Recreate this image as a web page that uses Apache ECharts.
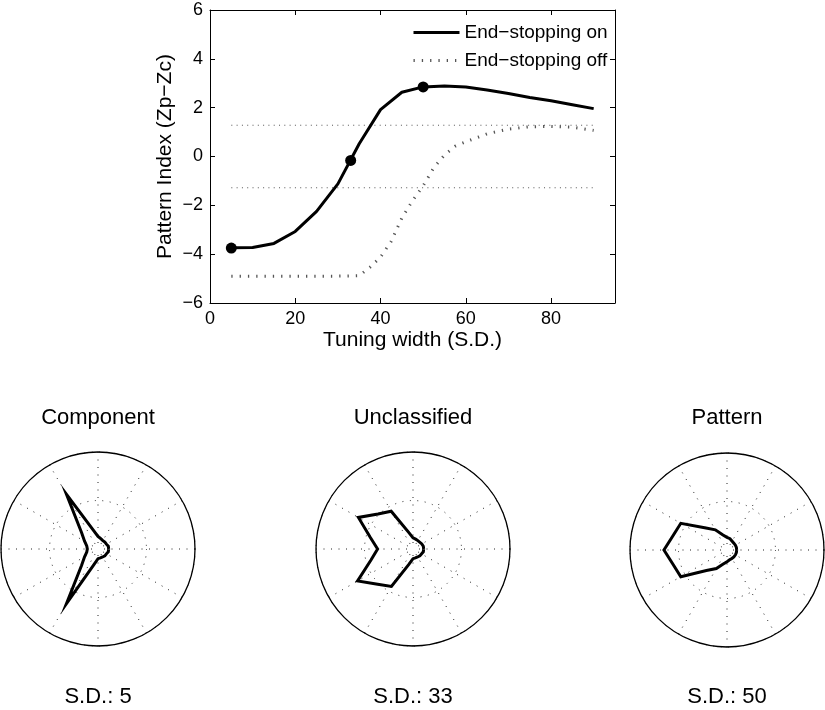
<!DOCTYPE html>
<html><head><meta charset="utf-8">
<script src="https://cdn.jsdelivr.net/npm/echarts@6/dist/echarts.min.js"></script>
<style>html,body{margin:0;padding:0;background:#fff}#c{width:825px;height:710px}</style>
</head><body><div id="c"></div>
<script>
// ---- Top chart data ----
const onSD = [5,10,15,20,25,30,35,40,45,50,55,60,65,70,75,80,85,90];
const onValues = [-3.74,-3.73,-3.56,-3.07,-2.25,-1.12,0.52,1.92,2.63,2.85,2.89,2.85,2.72,2.58,2.42,2.28,2.12,1.96];
const offSD = [5,10,15,20,25,30,35,37.5,40,42.5,45,47.5,50,52.5,55,57.5,60,65,70,75,80,85,90];
const offValues = [-4.9,-4.9,-4.9,-4.9,-4.9,-4.9,-4.88,-4.54,-4.12,-3.48,-2.52,-1.81,-1.2,-0.46,0.06,0.42,0.6,0.93,1.12,1.22,1.23,1.2,1.07];
const markerSD = [5,33,50];
const markerValues = [-3.75,-0.16,2.85];
const thresholdSD = [5,90];
const thresholdUpper = [1.28,1.28];
const thresholdLower = [-1.28,-1.28];
const legendNames = ['End\u2212stopping on','End\u2212stopping off'];

// ---- Polar plots data ----
const directions = [0,15,30,45,60,75,90,105,120,135,150,165,180,195,210,225,240,255,270,285,300,315,330,345,360];
const componentR   = [0.11,0.11,0.10,0.10,0.10,0.11,0.13,0.21,0.65,0.24,0.16,0.12,0.11,0.12,0.16,0.24,0.65,0.17,0.10,0.095,0.095,0.10,0.10,0.11,0.11];
const unclassifiedR= [0.11,0.11,0.105,0.10,0.10,0.105,0.115,0.18,0.45,0.51,0.65,0.455,0.365,0.45,0.66,0.515,0.445,0.165,0.10,0.095,0.095,0.10,0.105,0.11,0.11];
const patternR     = [0.10,0.10,0.10,0.10,0.105,0.12,0.13,0.16,0.24,0.325,0.55,0.575,0.65,0.575,0.55,0.30,0.22,0.15,0.12,0.105,0.10,0.10,0.10,0.10,0.10];
const polarTitles = ['Component','Unclassified','Pattern'];
const polarCaptions = ['S.D.: 5','S.D.: 33','S.D.: 50'];
const polarSeries = [componentR, unclassifiedR, patternR];

const FONT = 'Liberation Sans, Arial, Helvetica, sans-serif';
const centers = [[98,549],[413,549],[727,550]];

const chart = echarts.init(document.getElementById('c'), null, {renderer:'canvas'});
const minusFmt = v => v < 0 ? '\u2212' + (-v) : String(v);
const dotStyle = {color:'#222', width:1, type:[1,6.5]};
const onLine = {color:'#000', width:3};
const offLine = {color:'#555', width:3, type:[1.3,7], cap:'butt'};

const titles = [];
polarTitles.forEach((t,i)=>titles.push({text:t, left:centers[i][0], top:407, textAlign:'center', padding:0,
  textStyle:{fontFamily:FONT, fontSize:22, fontWeight:'normal', color:'#000'}}));
polarCaptions.forEach((t,i)=>titles.push({text:t, left:centers[i][0], top:686, textAlign:'center', padding:0,
  textStyle:{fontFamily:FONT, fontSize:22, fontWeight:'normal', color:'#000'}}));

const series = [
  {name:legendNames[0], type:'line', xAxisIndex:0, yAxisIndex:0, data:onSD.map((x,i)=>[x,onValues[i]]),
   symbol:'none', lineStyle:onLine, itemStyle:{color:'#000'}, z:5},
  {name:legendNames[1], type:'line', xAxisIndex:0, yAxisIndex:0, data:offSD.map((x,i)=>[x,offValues[i]]),
   symbol:'none', lineStyle:offLine, itemStyle:{color:'#555'}, z:4},
  {name:'thrU', type:'line', xAxisIndex:0, yAxisIndex:0, data:thresholdSD.map((x,i)=>[x,thresholdUpper[i]]),
   symbol:'none', lineStyle:{color:'#555', width:1, type:[1,4.3]}, z:3},
  {name:'thrL', type:'line', xAxisIndex:0, yAxisIndex:0, data:thresholdSD.map((x,i)=>[x,thresholdLower[i]]),
   symbol:'none', lineStyle:{color:'#555', width:1, type:[1,4.3]}, z:3},
  {name:'markers', type:'scatter', xAxisIndex:0, yAxisIndex:0, data:markerSD.map((x,i)=>[x,markerValues[i]]),
   symbol:'circle', symbolSize:11, itemStyle:{color:'#000', opacity:1}, z:6}
];
polarSeries.forEach((R,i)=>{
  series.push({type:'line', coordinateSystem:'polar', polarIndex:i, data:directions.map((a,k)=>[R[k],a]),
    symbol:'none', lineStyle:{color:'#000', width:3, join:'miter', miterLimit:20}, z:5});
  series.push({type:'scatter', coordinateSystem:'polar', polarIndex:i, data:[[0,0]],
    symbol:'emptyCircle', symbolSize:8, itemStyle:{color:'#fff', borderColor:'#000', borderWidth:1, opacity:1}, z:4});
});

const option = {
  backgroundColor:'#fff',
  animation:false,
  title:titles,
  legend:{data:[
      {name:legendNames[0], itemStyle:{opacity:0}, lineStyle:onLine},
      {name:legendNames[1], itemStyle:{opacity:0}, lineStyle:offLine}],
    orient:'vertical', left:412, top:23, padding:0,
    itemWidth:46, itemHeight:14, itemGap:9,
    textStyle:{fontFamily:FONT, fontSize:19, color:'#000'}},
  grid:{left:210, right:210, top:10, bottom:407, containLabel:false, outerBoundsMode:'none'},
  xAxis:[
    {type:'value', min:0, max:95, interval:20, position:'bottom', name:'Tuning width (S.D.)', nameLocation:'middle', nameGap:27,
     nameTextStyle:{fontFamily:FONT, fontSize:21, color:'#000'},
     axisLine:{show:true, onZero:false, lineStyle:{color:'#000', width:1}},
     axisTick:{show:true, inside:true, length:5, lineStyle:{color:'#000'}},
     axisLabel:{show:true, margin:7, showMaxLabel:false, fontFamily:FONT, fontSize:18, color:'#000'},
     splitLine:{show:false}},
    {type:'value', min:0, max:95, interval:20, position:'top',
     axisLine:{show:true, onZero:false, lineStyle:{color:'#000', width:1}},
     axisTick:{show:true, inside:true, length:5, lineStyle:{color:'#000'}},
     axisLabel:{show:false}, splitLine:{show:false}}
  ],
  yAxis:[
    {type:'value', min:-6, max:6, interval:2, position:'left', name:'Pattern Index (Zp\u2212Zc)', nameLocation:'middle', nameGap:34,
     nameTextStyle:{fontFamily:FONT, fontSize:21, color:'#000'},
     axisLine:{show:true, onZero:false, lineStyle:{color:'#000', width:1}},
     axisTick:{show:true, inside:true, length:5, lineStyle:{color:'#000'}},
     axisLabel:{show:true, margin:7, formatter:minusFmt, fontFamily:FONT, fontSize:18, color:'#000'},
     splitLine:{show:false}},
    {type:'value', min:-6, max:6, interval:2, position:'right',
     axisLine:{show:true, onZero:false, lineStyle:{color:'#000', width:1}},
     axisTick:{show:true, inside:true, length:5, lineStyle:{color:'#000'}},
     axisLabel:{show:false}, splitLine:{show:false}}
  ],
  polar: centers.map(c=>({center:c, radius:97})),
  angleAxis: centers.map((c,i)=>({polarIndex:i, type:'value', min:0, max:360, interval:30, startAngle:0, clockwise:false,
    axisLine:{show:true, lineStyle:{color:'#000', width:1.3}}, axisTick:{show:false}, axisLabel:{show:false},
    splitLine:{show:true, lineStyle:dotStyle}})),
  radiusAxis: centers.map((c,i)=>({polarIndex:i, type:'value', min:0, max:1, interval:0.5,
    axisLine:{show:false}, axisTick:{show:false}, axisLabel:{show:false},
    splitLine:{show:true, lineStyle:dotStyle}})),
  series:series
};
chart.setOption(option);
</script></body></html>
